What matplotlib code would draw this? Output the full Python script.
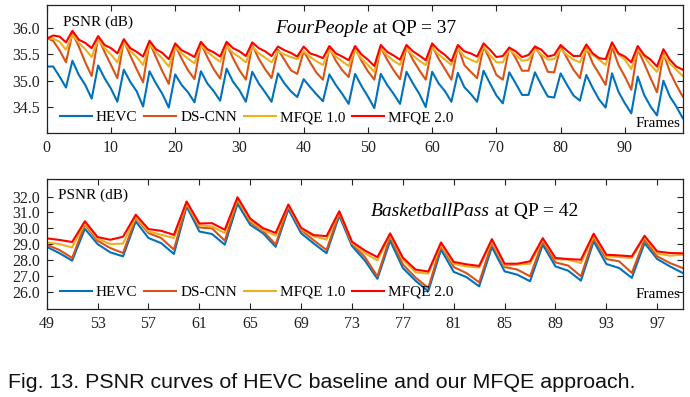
# PSNR curves of HEVC / DS-CNN / MFQE 1.0 / MFQE 2.0 on two sequences
import numpy as np
import matplotlib
matplotlib.use('Agg')
import matplotlib.pyplot as plt

# ---- data: FourPeople, QP = 37, frames 0..99 ----
frames_fp = np.arange(0, 100)
hevc_fp = [35.27, 35.27, 35.08, 34.87, 35.38, 35.11, 34.92, 34.66,
           35.29, 35.05, 34.85, 34.60, 35.21, 34.98, 34.80, 34.51,
           35.18, 34.95, 34.75, 34.49, 35.12, 34.92, 34.78, 34.59,
           35.18, 34.95, 34.80, 34.62, 35.23, 34.98, 34.82, 34.60,
           35.17, 34.95, 34.78, 34.60, 35.14, 34.95, 34.80, 34.69,
           35.03, 34.88, 34.74, 34.61, 35.12, 34.92, 34.75, 34.56,
           35.13, 34.90, 34.70, 34.48, 35.13, 34.92, 34.75, 34.56,
           35.17, 34.95, 34.75, 34.50, 35.17, 34.95, 34.80, 34.60,
           35.15, 34.88, 34.75, 34.60, 35.19, 34.95, 34.72, 34.57,
           35.16, 34.95, 34.73, 34.73, 35.16, 34.92, 34.70, 34.68,
           35.14, 34.92, 34.72, 34.62, 35.11, 34.86, 34.64, 34.49,
           35.14, 34.79, 34.57, 34.38, 35.08, 34.73, 34.51, 34.34,
           35.00, 34.70, 34.51, 34.29]
dscnn_fp = [35.81, 35.76, 35.58, 35.35, 35.90, 35.65, 35.35, 35.09,
            35.82, 35.55, 35.30, 35.05, 35.76, 35.48, 35.22, 34.97,
            35.73, 35.45, 35.18, 34.94, 35.67, 35.42, 35.20, 35.03,
            35.71, 35.45, 35.22, 35.04, 35.70, 35.43, 35.20, 35.02,
            35.68, 35.42, 35.22, 35.05, 35.59, 35.40, 35.20, 35.13,
            35.56, 35.35, 35.15, 35.02, 35.63, 35.38, 35.20, 35.07,
            35.63, 35.38, 35.18, 35.02, 35.63, 35.40, 35.20, 35.03,
            35.65, 35.40, 35.20, 35.02, 35.66, 35.42, 35.22, 35.02,
            35.65, 35.30, 35.17, 35.05, 35.65, 35.40, 35.11, 35.02,
            35.63, 35.43, 35.19, 35.19, 35.65, 35.46, 35.17, 35.16,
            35.65, 35.43, 35.21, 35.05, 35.63, 35.33, 35.13, 34.92,
            35.65, 35.30, 35.08, 34.83, 35.60, 35.33, 35.05, 34.78,
            35.52, 35.17, 34.92, 34.70]
mfqe1_fp = [35.81, 35.80, 35.74, 35.59, 35.87, 35.72, 35.60, 35.45,
            35.79, 35.62, 35.50, 35.35, 35.73, 35.57, 35.45, 35.30,
            35.70, 35.55, 35.42, 35.27, 35.65, 35.52, 35.42, 35.33,
            35.68, 35.55, 35.45, 35.36, 35.66, 35.53, 35.45, 35.35,
            35.65, 35.52, 35.44, 35.35, 35.56, 35.50, 35.45, 35.41,
            35.56, 35.45, 35.37, 35.30, 35.59, 35.46, 35.37, 35.28,
            35.59, 35.42, 35.30, 35.17, 35.62, 35.48, 35.38, 35.30,
            35.62, 35.48, 35.38, 35.30, 35.63, 35.50, 35.40, 35.30,
            35.62, 35.46, 35.40, 35.35, 35.65, 35.49, 35.35, 35.35,
            35.60, 35.49, 35.38, 35.40, 35.60, 35.50, 35.40, 35.41,
            35.60, 35.49, 35.40, 35.35, 35.60, 35.49, 35.40, 35.30,
            35.68, 35.50, 35.40, 35.22, 35.60, 35.46, 35.30, 35.17,
            35.49, 35.33, 35.21, 35.09]
mfqe2_fp = [35.80, 35.86, 35.84, 35.73, 35.95, 35.78, 35.72, 35.62,
            35.85, 35.68, 35.62, 35.52, 35.79, 35.62, 35.55, 35.46,
            35.76, 35.60, 35.53, 35.41, 35.71, 35.58, 35.52, 35.45,
            35.74, 35.60, 35.54, 35.46, 35.74, 35.62, 35.56, 35.47,
            35.73, 35.62, 35.56, 35.47, 35.65, 35.58, 35.53, 35.46,
            35.65, 35.52, 35.48, 35.43, 35.66, 35.52, 35.46, 35.39,
            35.66, 35.50, 35.40, 35.28, 35.68, 35.55, 35.48, 35.40,
            35.68, 35.56, 35.48, 35.39, 35.71, 35.58, 35.49, 35.37,
            35.68, 35.56, 35.52, 35.46, 35.71, 35.59, 35.45, 35.47,
            35.63, 35.56, 35.45, 35.49, 35.65, 35.59, 35.46, 35.49,
            35.68, 35.57, 35.47, 35.47, 35.69, 35.52, 35.43, 35.41,
            35.73, 35.52, 35.46, 35.35, 35.66, 35.49, 35.40, 35.27,
            35.60, 35.40, 35.27, 35.21]

# ---- data: BasketballPass, QP = 42, frames 49..99 ----
frames_bp = np.arange(49, 100)
hevc_bp = [28.85, 28.45, 27.98, 29.98, 29.02, 28.50, 28.25, 30.44,
           29.40, 29.08, 28.40, 31.38, 29.81, 29.65, 28.98, 31.55,
           30.23, 29.70, 28.85, 31.20, 29.70, 29.05, 28.45, 30.80,
           28.90, 28.00, 26.84, 29.23, 27.52, 26.72, 26.06, 28.67,
           27.28, 26.95, 26.37, 28.83, 27.31, 27.10, 26.69, 28.98,
           27.62, 27.35, 26.73, 29.19, 27.77, 27.52, 26.90, 29.08,
           28.08, 27.62, 27.21]
dscnn_bp = [28.98, 28.65, 28.15, 30.25, 29.23, 28.77, 28.46, 30.65,
            29.71, 29.40, 28.67, 31.54, 30.06, 30.00, 29.23, 31.79,
            30.40, 29.85, 29.00, 31.38, 29.90, 29.25, 28.65, 30.96,
            29.05, 28.22, 27.00, 29.50, 27.75, 26.92, 26.27, 28.92,
            27.58, 27.20, 26.62, 29.08, 27.58, 27.42, 27.00, 29.19,
            27.87, 27.67, 27.00, 29.39, 28.08, 27.94, 27.21, 29.29,
            28.25, 27.83, 27.52]
mfqe1_bp = [29.12, 29.02, 28.81, 30.33, 29.35, 29.02, 29.05, 30.71,
            29.81, 29.60, 29.40, 31.58, 30.19, 30.13, 29.71, 31.85,
            30.50, 29.90, 29.55, 31.44, 29.96, 29.50, 29.30, 31.02,
            29.10, 28.45, 28.00, 29.60, 28.05, 27.25, 27.17, 28.98,
            27.78, 27.62, 27.55, 29.19, 27.67, 27.73, 27.79, 29.29,
            28.08, 28.04, 27.83, 29.54, 28.25, 28.21, 28.15, 29.46,
            28.42, 28.29, 28.35]
mfqe2_bp = [29.38, 29.28, 29.15, 30.45, 29.46, 29.29, 29.48, 30.86,
            29.96, 29.85, 29.60, 31.69, 30.31, 30.33, 29.92, 31.96,
            30.62, 30.02, 29.72, 31.50, 30.04, 29.58, 29.52, 31.08,
            29.17, 28.62, 28.20, 29.69, 28.17, 27.42, 27.30, 29.12,
            27.90, 27.75, 27.65, 29.33, 27.79, 27.79, 27.94, 29.39,
            28.15, 28.08, 28.04, 29.67, 28.35, 28.31, 28.25, 29.54,
            28.56, 28.46, 28.44]

names = ['HEVC', 'DS-CNN', 'MFQE 1.0', 'MFQE 2.0']
colors = ['#0072BD', '#D95319', '#EDB120', '#FF0000']

serif = 'Liberation Serif'
plt.rcParams['font.family'] = serif

fig = plt.figure(figsize=(6.9, 3.97), dpi=100)
ax1 = fig.add_axes([0.0677, 0.6642, 0.9217, 0.3232])
ax2 = fig.add_axes([0.0677, 0.2217, 0.9217, 0.3274])


def draw(ax, x, series, xlim, ylim, xticks, yticks, name, qp,
         title_pos, psnr_pos, frames_y, leg_y):
    for s, c, n in zip(series, colors, names):
        ax.plot(x, s, color=c, lw=1.5, label=n)
    ax.set_xlim(*xlim)
    ax.set_ylim(*ylim)
    ax.set_xticks(xticks)
    ax.set_yticks(yticks)
    ax.set_yticklabels(['%.1f' % v for v in yticks])
    ax.tick_params(direction='in', top=True, right=True, length=4,
                   width=0.8, labelsize=11.5, colors='#222222', pad=5)
    for sp in ax.spines.values():
        sp.set_linewidth(0.9)
        sp.set_color('#222222')
    # labels inside the box
    ax.text(psnr_pos[0], psnr_pos[1], 'PSNR (dB)', transform=ax.transAxes,
            fontsize=11, va='center', ha='left')
    ax.text(0.997, frames_y, 'Frames', transform=ax.transAxes,
            fontsize=11, va='center', ha='right')
    t1 = ax.text(title_pos[0], title_pos[1], name, transform=ax.transAxes,
                 fontsize=14, style='italic', va='center', ha='left')
    ax.annotate(' at QP = %d' % qp, xy=(1, 0), xycoords=t1,
                fontsize=14, va='bottom', ha='left')
    ax.legend(loc='center left', bbox_to_anchor=(0.021, leg_y), ncol=4,
              frameon=False, fontsize=11, handlelength=2.1,
              handletextpad=0.25, columnspacing=0.45, borderpad=0,
              borderaxespad=0)


draw(ax1, frames_fp, [hevc_fp, dscnn_fp, mfqe1_fp, mfqe2_fp],
     (0, 99), (34.0, 36.44), range(0, 100, 10), [34.5, 35.0, 35.5, 36.0],
     'FourPeople', 37, (0.359, 0.82), (0.026, 0.862), 0.078, 0.125)
draw(ax2, frames_bp, [hevc_bp, dscnn_bp, mfqe1_bp, mfqe2_bp],
     (49, 99), (24.95, 33.1), range(49, 100, 4), [26, 27, 28, 29, 30, 31, 32],
     'BasketballPass', 42, (0.51, 0.748), (0.017, 0.877), 0.108, 0.13)

fig.text(8 / 690, 0.0227, 'Fig. 13. PSNR curves of HEVC baseline and our MFQE approach.',
         family='Liberation Sans', fontsize=15.4, va='baseline', ha='left',
         color='#111111')

fig.savefig('out.png', dpi=100)
